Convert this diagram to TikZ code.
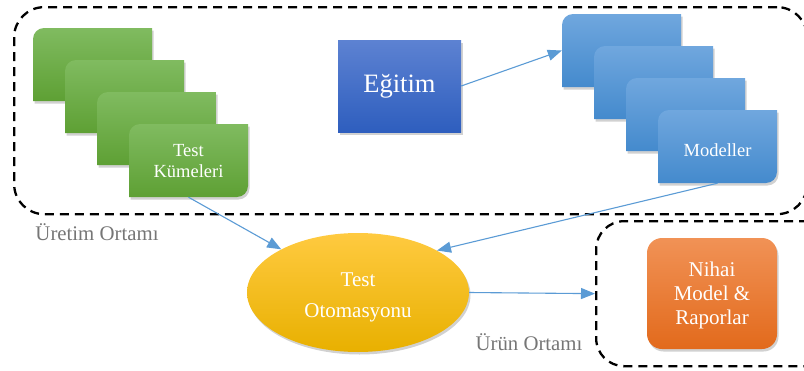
\documentclass[tikz,border=0pt]{standalone}
\usepackage{fontspec}
\setmainfont{Liberation Serif}
\usetikzlibrary{arrows.meta,shapes.geometric,shadows}
\definecolor{conn}{RGB}{91,155,213}
\definecolor{labgray}{RGB}{118,118,118}
\definecolor{gtop}{RGB}{128,187,96}
\definecolor{gbot}{RGB}{94,160,52}
\definecolor{btop}{RGB}{112,167,222}
\definecolor{bbot}{RGB}{68,138,205}
\definecolor{etop}{RGB}{93,130,210}
\definecolor{ebot}{RGB}{46,94,190}
\definecolor{ytop}{RGB}{255,202,64}
\definecolor{ybot}{RGB}{232,176,0}
\definecolor{otop}{RGB}{241,146,86}
\definecolor{obot}{RGB}{226,106,28}
\begin{document}
\begin{tikzpicture}[x=1pt,y=-1pt,
  envbox/.style={draw=black, line width=2.3pt, dash pattern=on 9pt off 6pt, rounded corners=30pt},
  shad/.style={drop shadow={shadow xshift=1.5pt, shadow yshift=-2.5pt, opacity=0.18, fill=black}},
  greencard/.style={top color=gtop, bottom color=gbot, shad},
  bluecard/.style={top color=btop, bottom color=bbot, shad},
  cardanchor/.style={inner sep=0pt, draw=none},
  wtext/.style={text=white, align=center, inner sep=0pt},
  envlabel/.style={text=labgray, anchor=base, inner sep=0pt, font=\fontsize{20.8}{24}\selectfont},
  conn/.style={draw=conn, line width=1.1pt, -{Triangle[length=14pt,width=11pt]}}
]
\useasboundingbox (0,0) rectangle (804,370);

% environments
\node[envbox, minimum width=793, minimum height=207, anchor=north west] (uretim) at (13,6) {};
\node[envbox, rounded corners=28pt, minimum width=240, minimum height=145, anchor=north west] (urun) at (595,220) {};
\node[envlabel] (uretimlab) at (97,240) {Üretim Ortamı};
\node[envlabel] (urunlab) at (529,350) {Ürün Ortamı};

% green cards
\foreach \i in {1,...,4}{
  \pgfmathsetmacro\xa{33+32*(\i-1)}
  \pgfmathsetmacro\xb{\xa+119}
  \pgfmathsetmacro\ya{28+32*(\i-1)}
  \pgfmathsetmacro\yb{\ya+73}
  \shade[greencard] (\xa,\yb) -- (\xa,\ya+11) .. controls (\xa,\ya+5) and (\xa+5,\ya) .. (\xa+11,\ya) -- (\xb,\ya) -- (\xb,\yb-11) .. controls (\xb,\yb-5) and (\xb-5,\yb) .. (\xb-11,\yb) -- cycle;
  \node[cardanchor, minimum width=119, minimum height=73] (g\i) at ({\xa+59.5},{\ya+36.5}) {};
}
\node[wtext, font=\fontsize{18.5}{21}\selectfont] (gtext) at ([yshift=-1pt]g4) {Test\\Kümeleri};

% blue cards
\foreach \i in {1,...,4}{
  \pgfmathsetmacro\xa{562+32*(\i-1)}
  \pgfmathsetmacro\xb{\xa+119}
  \pgfmathsetmacro\ya{14+32*(\i-1)}
  \pgfmathsetmacro\yb{\ya+73}
  \shade[bluecard] (\xa,\yb) -- (\xa,\ya+11) .. controls (\xa,\ya+5) and (\xa+5,\ya) .. (\xa+11,\ya) -- (\xb,\ya) -- (\xb,\yb-11) .. controls (\xb,\yb-5) and (\xb-5,\yb) .. (\xb-11,\yb) -- cycle;
  \node[cardanchor, minimum width=119, minimum height=73] (b\i) at ({\xa+59.5},{\ya+36.5}) {};
}
\node[wtext, font=\fontsize{18.5}{21}\selectfont] (btext) at ([yshift=-4pt]b4) {Modeller};

% Egitim
\node[rectangle, top color=etop, bottom color=ebot, shad, minimum width=123, minimum height=92,
      text=white, font=\fontsize{26.5}{30}\selectfont] (eg) at (399.5,86) {Eğitim};

% Test otomasyonu
\node[ellipse, top color=ytop, bottom color=ybot, shad, minimum width=222, minimum height=119] (ell) at (358,292.5) {};
\node[wtext, font=\fontsize{21}{31}\selectfont] (elltext) at ([yshift=-5pt]ell) {Test\\Otomasyonu};

% Nihai
\node[rectangle, rounded corners=15pt, top color=otop, bottom color=obot, shad, minimum width=130, minimum height=111] (nihai) at (712,293.5) {};
\node[wtext, font=\fontsize{21}{24}\selectfont] (nihaitext) at ([yshift=-2pt]nihai) {Nihai\\Model \&\\Raporlar};

% connectors
\draw[conn] (eg.east) -- (b1.west);
\draw[conn] (g4.south) -- (ell);
\draw[conn] (b4.south) -- (ell.28);
\draw[conn] (ell.east) -- (urun.west);
\end{tikzpicture}
\end{document}
